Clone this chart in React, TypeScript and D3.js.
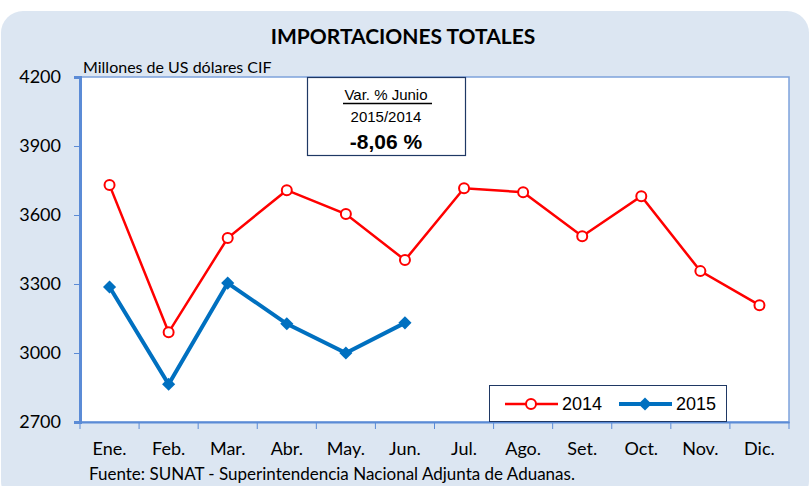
import React, { useEffect, useRef } from 'react';
import * as d3 from 'd3';

const months = ['Ene.', 'Feb.', 'Mar.', 'Abr.', 'May.', 'Jun.', 'Jul.', 'Ago.', 'Set.', 'Oct.', 'Nov.', 'Dic.'];
const values2014 = [3730, 3090, 3500, 3708, 3604, 3404, 3716, 3699, 3508, 3682, 3356, 3208];
const values2015 = [3287, 2864, 3304, 3127, 3000, 3131];
const yTicks = [2700, 3000, 3300, 3600, 3900, 4200];

const calib = 'Lato, "Open Sans", sans-serif';
const arial = '"Liberation Sans", Arial, sans-serif';

export default function App() {
  const ref = useRef<SVGSVGElement>(null);

  useEffect(() => {
    const width = 811;
    const height = 486;
    const m = { left: 80, right: 789, top: 77, bottom: 422 };

    const svg = d3.select(ref.current).attr('width', width).attr('height', height);
    svg.selectAll('*').remove();

    // background panel
    svg.append('rect')
      .attr('x', 1).attr('y', 11).attr('width', 808).attr('height', 492)
      .attr('rx', 22).attr('fill', '#dce6f2');

    // title
    svg.append('text')
      .attr('x', 403).attr('y', 44)
      .attr('text-anchor', 'middle')
      .attr('font-family', calib).attr('font-weight', 'bold').attr('font-size', 21)
      .text('IMPORTACIONES TOTALES');

    const x = d3.scaleBand().domain(months).range([m.left, m.right]);
    const y = d3.scaleLinear().domain([2700, 4200]).range([m.bottom, m.top]);

    // plot area
    svg.append('rect')
      .attr('x', m.left).attr('y', m.top)
      .attr('width', m.right - m.left).attr('height', m.bottom - m.top)
      .attr('fill', '#fff').attr('stroke', '#7da2dc').attr('stroke-width', 1.5);

    svg.append('text')
      .attr('x', 83).attr('y', 73)
      .attr('font-family', calib).attr('font-size', 16)
      .text('Millones de US dólares CIF');

    // y axis
    const yAxis = svg.append('g').attr('transform', `translate(${m.left},0)`)
      .call(d3.axisLeft(y).tickValues(yTicks).tickSize(6).tickPadding(13).tickFormat(d3.format('d')));
    yAxis.select('.domain').attr('stroke', '#5b8bd6').attr('stroke-width', 3);
    yAxis.selectAll('.tick line').attr('stroke', '#5b8bd6');
    yAxis.selectAll('.tick text').attr('font-family', calib).attr('font-size', 18).attr('fill', '#000');

    // x axis
    const xAxis = svg.append('g').attr('transform', `translate(0,${m.bottom})`)
      .call(d3.axisBottom(x).tickSize(0).tickPadding(20));
    xAxis.select('.domain').attr('stroke', '#5b8bd6').attr('stroke-width', 2);
    xAxis.selectAll('.tick text').attr('font-family', calib).attr('font-size', 18).attr('fill', '#000');
    const bounds = months.map(mo => x(mo) as number).concat([m.right]);
    xAxis.selectAll('line.sep').data(bounds).join('line')
      .attr('class', 'sep')
      .attr('x1', d => d).attr('x2', d => d).attr('y1', 0).attr('y2', 7)
      .attr('stroke', '#5b8bd6');

    const cx = (i: number) => (x(months[i]) as number) + x.bandwidth() / 2;

    const line = d3.line<number>().x((_, i) => cx(i)).y(d => y(d));

    // 2014
    svg.append('path').datum(values2014)
      .attr('d', line).attr('fill', 'none').attr('stroke', '#ff0000').attr('stroke-width', 2.5);
    svg.append('g').selectAll('circle').data(values2014).join('circle')
      .attr('cx', (_, i) => cx(i)).attr('cy', d => y(d)).attr('r', 5)
      .attr('fill', '#fff').attr('stroke', '#ff0000').attr('stroke-width', 2);

    // 2015
    const diamond = d3.symbol().type(d3.symbolDiamond2).size(110);
    svg.append('path').datum(values2015)
      .attr('d', line).attr('fill', 'none').attr('stroke', '#0070c0').attr('stroke-width', 4);
    svg.append('g').selectAll('path').data(values2015).join('path')
      .attr('transform', (d, i) => `translate(${cx(i)},${y(d)})`)
      .attr('d', diamond).attr('fill', '#0070c0');

    // annotation box
    const note = svg.append('g');
    note.append('rect').attr('x', 307.5).attr('y', 77.5).attr('width', 158).attr('height', 78)
      .attr('fill', '#fff').attr('stroke', '#1f3864').attr('stroke-width', 1.2);
    note.append('text').attr('x', 386).attr('y', 100).attr('text-anchor', 'middle')
      .attr('font-family', arial).attr('font-size', 15)
      .text('Var. % Junio');
    note.append('line').attr('x1', 343).attr('x2', 432).attr('y1', 103.5).attr('y2', 103.5)
      .attr('stroke', '#000').attr('stroke-width', 1.3);
    note.append('text').attr('x', 386).attr('y', 122).attr('text-anchor', 'middle')
      .attr('font-family', arial).attr('font-size', 15)
      .text('2015/2014');
    note.append('text').attr('x', 386).attr('y', 149).attr('text-anchor', 'middle')
      .attr('font-family', arial).attr('font-size', 21).attr('font-weight', 'bold')
      .text('-8,06 %');

    // legend
    const lg = svg.append('g');
    lg.append('rect').attr('x', 489.5).attr('y', 385.5).attr('width', 237).attr('height', 36)
      .attr('fill', '#fff').attr('stroke', '#1f3864').attr('stroke-width', 1);
    lg.append('line').attr('x1', 505).attr('x2', 558).attr('y1', 404).attr('y2', 404)
      .attr('stroke', '#ff0000').attr('stroke-width', 2.5);
    lg.append('circle').attr('cx', 531).attr('cy', 404).attr('r', 5)
      .attr('fill', '#fff').attr('stroke', '#ff0000').attr('stroke-width', 2);
    lg.append('text').attr('x', 562).attr('y', 410).attr('font-family', arial).attr('font-size', 18).text('2014');
    lg.append('line').attr('x1', 619).attr('x2', 672).attr('y1', 404).attr('y2', 404)
      .attr('stroke', '#0070c0').attr('stroke-width', 4);
    lg.append('path').attr('transform', 'translate(645,404)').attr('d', diamond).attr('fill', '#0070c0');
    lg.append('text').attr('x', 676).attr('y', 410).attr('font-family', arial).attr('font-size', 18).text('2015');

    // source
    svg.append('text')
      .attr('x', 89).attr('y', 480)
      .attr('font-family', calib).attr('font-size', 17)
      .text('Fuente: SUNAT - Superintendencia Nacional Adjunta de Aduanas.');
  }, []);

  return <svg ref={ref} style={{ position: 'absolute', left: 0, top: 0 }} />;
}
